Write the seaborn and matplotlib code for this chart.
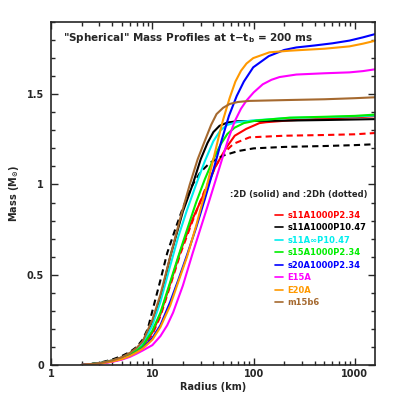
import numpy as np
import pandas as pd
import matplotlib
matplotlib.use("Agg")
import matplotlib.pyplot as plt
from matplotlib.lines import Line2D
from matplotlib.ticker import FuncFormatter, LogLocator, MultipleLocator
import seaborn as sns

# Mass profiles: radius (km) -> enclosed mass (Msun)
red_r = [2, 3, 4, 5, 6, 7, 8, 10, 12, 15, 19, 25, 33, 42, 54, 65, 84.5, 114, 133, 226, 500, 1000, 1580]
red_m = [0, 0.009, 0.021, 0.036, 0.055, 0.077, 0.1, 0.18, 0.28, 0.45, 0.634, 0.81, 0.96, 1.1, 1.206, 1.27, 1.308, 1.34, 1.345, 1.355, 1.365, 1.372, 1.378]

red_h_r = [2, 3, 4, 5, 6, 7, 8, 10, 12, 15, 19, 25, 33, 42, 50, 63, 91, 200, 500, 1000, 1580]
red_h_m = [0, 0.009, 0.021, 0.035, 0.054, 0.075, 0.098, 0.17, 0.27, 0.44, 0.62, 0.8, 0.97, 1.1, 1.17, 1.225, 1.261, 1.27, 1.274, 1.278, 1.285]

black_r = [2, 3, 4, 5, 6, 7, 8, 10, 12, 15, 20, 25, 30, 35, 40, 46, 55, 68, 100, 226, 500, 1000, 1580]
black_m = [0, 0.01, 0.025, 0.042, 0.065, 0.09, 0.125, 0.24, 0.37, 0.6, 0.85, 1.0, 1.14, 1.23, 1.29, 1.325, 1.343, 1.35, 1.352, 1.354, 1.357, 1.36, 1.362]

black_h_r = [2, 3, 4, 5, 6, 7, 8, 9, 10, 12, 14, 17, 20, 25, 30, 37, 50, 70, 100, 200, 500, 1000, 1580]
black_h_m = [0, 0.012, 0.03, 0.05, 0.072, 0.1, 0.14, 0.2, 0.3, 0.47, 0.62, 0.76, 0.87, 1.0, 1.07, 1.12, 1.16, 1.185, 1.2, 1.208, 1.213, 1.218, 1.223]

cyan_r = [2, 3, 4, 5, 6, 7, 8, 10, 12, 15, 18, 22, 27, 33, 40, 47, 55, 68, 100, 226, 500, 1000, 1580]
cyan_m = [0, 0.01, 0.024, 0.04, 0.062, 0.086, 0.115, 0.22, 0.35, 0.55, 0.71, 0.86, 1.0, 1.13, 1.24, 1.3, 1.33, 1.345, 1.355, 1.369, 1.373, 1.377, 1.382]

green_r = [2, 3, 4, 5, 6, 7, 8, 10, 12, 15, 18, 22, 27, 33, 40, 47, 55, 65, 80, 106, 226, 500, 1000, 1580]
green_m = [0, 0.009, 0.022, 0.037, 0.057, 0.08, 0.105, 0.19, 0.29, 0.46, 0.6, 0.75, 0.9, 1.03, 1.14, 1.22, 1.28, 1.315, 1.34, 1.354, 1.37, 1.375, 1.38, 1.387]

blue_r = [2, 3, 4, 5, 6, 7, 8, 10, 12, 15, 18, 22, 27, 33, 40, 48, 57, 68, 80, 99, 141, 200, 264, 400, 600, 883, 1200, 1580]
blue_m = [0, 0.008, 0.019, 0.033, 0.05, 0.07, 0.092, 0.15, 0.22, 0.35, 0.47, 0.61, 0.76, 0.92, 1.08, 1.24, 1.38, 1.49, 1.57, 1.649, 1.711, 1.745, 1.759, 1.77, 1.782, 1.797, 1.815, 1.833]

magenta_r = [2, 3, 4, 5, 6, 7, 8, 10, 12, 14, 16, 20, 25, 30, 36, 43, 50, 56, 65, 75, 85, 100, 123, 150, 180, 264, 500, 883, 1200, 1580]
magenta_m = [0, 0.007, 0.017, 0.03, 0.045, 0.063, 0.08, 0.11, 0.16, 0.22, 0.29, 0.44, 0.62, 0.76, 0.9, 1.04, 1.16, 1.25, 1.35, 1.42, 1.465, 1.51, 1.555, 1.58, 1.595, 1.609, 1.616, 1.621, 1.628, 1.638]

orange_r = [2, 3, 4, 5, 6, 7, 8, 10, 12, 15, 18, 22, 27, 34, 40, 45, 50, 58, 66, 75, 85, 99, 143, 226, 300, 500, 883, 1200, 1580]
orange_m = [0, 0.008, 0.019, 0.033, 0.05, 0.07, 0.09, 0.14, 0.21, 0.33, 0.46, 0.6, 0.77, 0.98, 1.14, 1.26, 1.36, 1.48, 1.57, 1.63, 1.67, 1.70, 1.732, 1.741, 1.745, 1.752, 1.765, 1.78, 1.796]

brown_r = [2, 3, 4, 5, 6, 7, 8, 10, 12, 15, 19, 23.4, 28, 33, 38, 43, 50, 58, 70, 91, 226, 500, 1000, 1580]
brown_m = [0, 0.01, 0.025, 0.043, 0.067, 0.095, 0.13, 0.25, 0.39, 0.6, 0.82, 1.0, 1.14, 1.243, 1.33, 1.39, 1.425, 1.446, 1.457, 1.463, 1.468, 1.472, 1.478, 1.483]

labels = ["s11A1000P2.34", "s11A1000P10.47", "s11A\u221eP10.47", "s15A1000P2.34",
          "s20A1000P2.34", "E15A", "E20A", "m15b6"]
colors = ["#ff0000", "#000000", "#00eeee", "#00ee00", "#0000ff", "#ff00ff", "#ff9900", "#a5692f"]

solid = [(red_r, red_m), (black_r, black_m), (cyan_r, cyan_m), (green_r, green_m),
         (blue_r, blue_m), (magenta_r, magenta_m), (orange_r, orange_m), (brown_r, brown_m)]
dotted = {0: (red_h_r, red_h_m), 1: (black_h_r, black_h_m)}

rows = []
for i, (r, m) in enumerate(solid):
    rows.append(pd.DataFrame({"radius": r, "mass": m, "model": labels[i], "kind": "2D"}))
    if i in dotted:
        rh, mh = dotted[i]
        rows.append(pd.DataFrame({"radius": rh, "mass": mh, "model": labels[i], "kind": "2Dh"}))
df = pd.concat(rows, ignore_index=True)

sns.set_style("ticks")
plt.rcParams["font.family"] = ["DejaVu Sans"]
plt.rcParams["font.weight"] = "bold"

fig = plt.figure(figsize=(4.09, 4.09), dpi=100)
ax = fig.add_axes([0.125, 0.1076, 0.792, 0.8386])

pal = dict(zip(labels, colors))
sns.lineplot(data=df, x="radius", y="mass", hue="model", style="kind",
             palette=pal, hue_order=labels, dashes={"2D": "", "2Dh": (3, 2)},
             estimator=None, sort=True, lw=1.5, legend=False, ax=ax)

ax.set_xscale("log")
ax.set_xlim(1, 1580)
ax.set_ylim(0, 1.9)
ax.xaxis.set_major_locator(LogLocator(base=10))
ax.xaxis.set_minor_locator(LogLocator(base=10, subs=np.arange(2, 10)))
ax.xaxis.set_major_formatter(FuncFormatter(lambda v, p: f"{v:g}"))
ax.yaxis.set_major_locator(MultipleLocator(0.5))
ax.yaxis.set_minor_locator(MultipleLocator(0.1))
ax.yaxis.set_major_formatter(FuncFormatter(lambda v, p: f"{v:g}"))
ax.tick_params(which="both", direction="in", top=True, right=True, labelsize=7, width=1)
ax.tick_params(which="major", length=5)
ax.tick_params(which="minor", length=3)
ax.tick_params(axis="x", which="major", pad=3)
ax.tick_params(axis="y", which="major", pad=5)
for s in ax.spines.values():
    s.set_linewidth(1.2)

ax.set_xlabel("Radius (km)", fontsize=7, fontweight="bold", labelpad=2)
ax.set_ylabel(r"Mass (M$_{\mathbf{\odot}}$)", fontsize=7, fontweight="bold", labelpad=4)

ax.text(0.037, 0.953, '"Spherical" Mass Profiles at t$-$t$_\\mathbf{b}$ = 200 ms',
        transform=ax.transAxes, fontsize=7.5, fontweight="bold", va="center", ha="left")
ax.text(0.978, 0.498, ":2D (solid) and :2Dh (dotted)", transform=ax.transAxes,
        fontsize=6, fontweight="bold", va="center", ha="right")

handles = [Line2D([], [], color=c, lw=1.2) for c in colors]
ax.legend(handles, labels, loc="upper left", bbox_to_anchor=(0.69, 0.45),
          frameon=False, labelcolor=colors, handlelength=1.0,
          handletextpad=0.5, labelspacing=0.42, borderaxespad=0, borderpad=0,
          prop={"weight": "bold", "size": 6})

fig.savefig("out.png", dpi=100)
